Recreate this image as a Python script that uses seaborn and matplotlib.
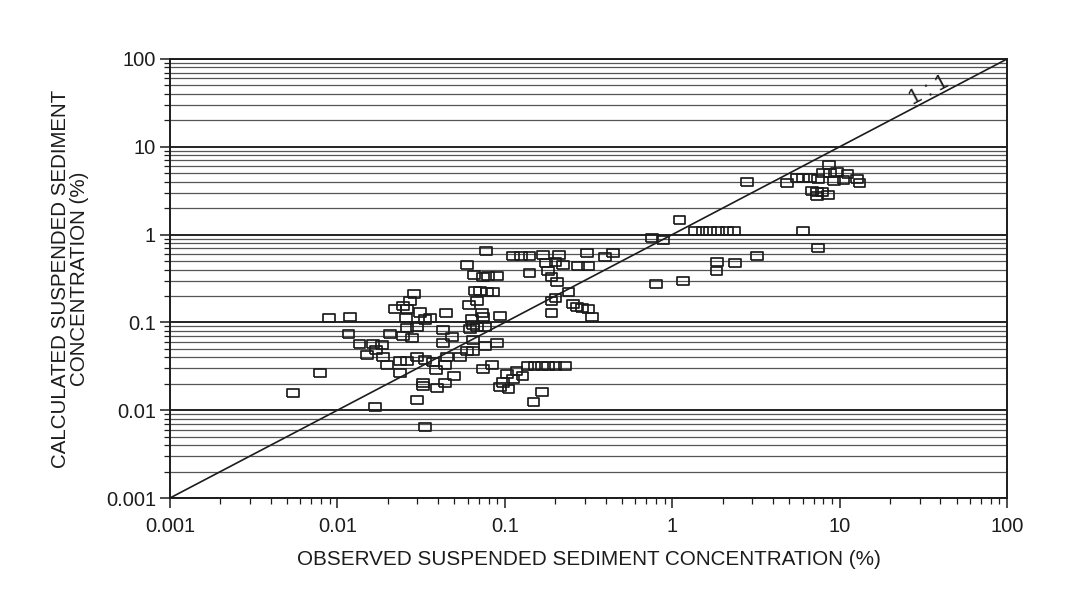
import numpy as np
import pandas as pd
import matplotlib
matplotlib.use("Agg")
import matplotlib.pyplot as plt
import seaborn as sns
from matplotlib.ticker import LogLocator, NullFormatter

# Observed vs calculated suspended sediment concentration (%), in three groups
low_observed = [0.0287, 0.0272, 0.0247, 0.0221, 0.0260, 0.0311, 0.00891, 0.0119, 0.0257, 0.0334,
                0.0357, 0.0299, 0.0260, 0.0206, 0.0117, 0.0247, 0.0279, 0.0136, 0.0163, 0.0185,
                0.0170, 0.0150, 0.0187, 0.0198, 0.0237, 0.0260, 0.0299, 0.0334, 0.0372, 0.0388,
                0.0237, 0.00787, 0.0324, 0.0324, 0.0394, 0.00543, 0.0299, 0.0168, 0.0334]
low_calculated = [0.211, 0.175, 0.154, 0.142, 0.142, 0.131, 0.112, 0.115, 0.112, 0.107,
                  0.112, 0.0886, 0.0863, 0.0738, 0.0738, 0.0700, 0.0664, 0.0568, 0.0568, 0.0553,
                  0.0485, 0.0425, 0.0404, 0.0327, 0.0363, 0.0363, 0.0404, 0.0373, 0.0354, 0.0287,
                  0.0265, 0.0265, 0.0204, 0.0189, 0.0179, 0.0157, 0.0131, 0.0109, 0.00644]

mid_observed = [0.0772, 0.0594, 0.112, 0.125, 0.140, 0.169, 0.211, 0.176, 0.200, 0.223,
                0.310, 0.443, 0.397, 0.274, 0.314, 0.0655, 0.0741, 0.0794, 0.0898, 0.140,
                0.181, 0.191, 0.205, 0.0664, 0.0711, 0.0783, 0.0851, 0.0682, 0.0611, 0.239,
                0.200, 0.191, 0.255, 0.270, 0.289, 0.314, 0.332, 0.191, 0.0446, 0.0731,
                0.0741, 0.0936, 0.0637, 0.0646, 0.0682, 0.0762, 0.0620, 0.0427, 0.0484, 0.0646,
                0.0762, 0.0898, 0.0427, 0.0594, 0.0646, 0.0540, 0.0452, 0.0440, 0.0741, 0.0839,
                0.136, 0.151, 0.167, 0.181, 0.200, 0.229, 0.103, 0.118, 0.127, 0.112,
                0.0975, 0.0936, 0.105, 0.0497, 0.0440, 0.167, 0.149]
mid_calculated = [0.650, 0.450, 0.570, 0.570, 0.570, 0.586, 0.586, 0.475, 0.487, 0.450,
                  0.617, 0.617, 0.556, 0.439, 0.439, 0.347, 0.329, 0.338, 0.338, 0.365,
                  0.385, 0.329, 0.288, 0.228, 0.228, 0.222, 0.222, 0.175, 0.158, 0.222,
                  0.190, 0.175, 0.162, 0.150, 0.146, 0.142, 0.115, 0.128, 0.128, 0.128,
                  0.115, 0.118, 0.109, 0.0934, 0.0887, 0.0887, 0.0841, 0.0819, 0.0682, 0.0630,
                  0.0539, 0.0583, 0.0583, 0.0472, 0.0472, 0.0404, 0.0404, 0.0327, 0.0294, 0.0327,
                  0.0319, 0.0319, 0.0319, 0.0319, 0.0319, 0.0319, 0.0258, 0.0280, 0.0245, 0.0227,
                  0.0209, 0.0184, 0.0174, 0.0245, 0.0204, 0.0161, 0.0124]

high_observed = [8.64, 7.96, 8.77, 9.64, 11.1, 2.80, 4.85, 5.57, 6.04, 6.65,
                 7.43, 9.26, 10.5, 12.7, 13.2, 6.84, 7.33, 7.85, 8.53, 7.33,
                 1.10, 0.757, 0.881, 1.37, 1.51, 1.68, 1.88, 2.12, 2.34, 6.04,
                 7.43, 1.85, 1.83, 2.37, 3.21, 0.800, 1.16]
high_calculated = [6.21, 5.03, 5.03, 5.16, 4.90, 3.97, 3.87, 4.41, 4.41, 4.41,
                   4.30, 4.08, 4.19, 4.30, 3.87, 3.14, 3.06, 3.06, 2.83, 2.75,
                   1.47, 0.915, 0.868, 1.10, 1.10, 1.10, 1.10, 1.10, 1.10, 1.10,
                   0.703, 0.487, 0.385, 0.475, 0.570, 0.274, 0.296]

one_to_one = [0.001, 100.0]
tick_values = [0.001, 0.01, 0.1, 1, 10, 100]
tick_labels = ["0.001", "0.01", "0.1", "1", "10", "100"]

df = pd.DataFrame({
    "observed": low_observed + mid_observed + high_observed,
    "calculated": low_calculated + mid_calculated + high_calculated,
})

sns.set_theme(style="white")
plt.rcParams["font.family"] = ["Liberation Sans", "DejaVu Sans"]

ink = "#1c1c1c"
fig = plt.figure(figsize=(10.71, 5.97), dpi=100)
ax = fig.add_axes([0.1587, 0.1658, 0.7816, 0.7354])
ax.set_xscale("log")
ax.set_yscale("log")

# open rectangular markers, a little wider than tall
rect = [(-1, -0.78), (1, -0.78), (1, 0.78), (-1, 0.78), (-1, -0.78)]
sns.scatterplot(data=df, x="observed", y="calculated", marker=rect, s=66,
                facecolor="none", edgecolor=ink, linewidth=1.25, ax=ax, legend=False,
                zorder=3)
ax.collections[0].set_facecolor("none")

sns.lineplot(x=one_to_one, y=one_to_one, color=ink, linewidth=1.2, ax=ax, zorder=2)

ax.set_xlim(0.001, 100)
ax.set_ylim(0.001, 100)

ax.set_xticks(tick_values)
ax.set_xticklabels(tick_labels)
ax.set_yticks(tick_values)
ax.set_yticklabels(tick_labels)
for axis in (ax.xaxis, ax.yaxis):
    axis.set_minor_locator(LogLocator(base=10, subs=np.arange(2, 10)))
    axis.set_minor_formatter(NullFormatter())

ax.tick_params(axis="both", which="major", direction="out", length=7, width=1.1,
               color=ink, labelsize=14.5, labelcolor=ink, bottom=True, left=True)
ax.tick_params(axis="both", which="minor", direction="out", length=4, width=0.9,
               color=ink, bottom=True, left=True)
ax.tick_params(axis="x", which="major", pad=7)
ax.tick_params(axis="y", which="major", pad=3)

ax.set_axisbelow(True)
ax.yaxis.grid(True, which="major", color="#111111", linewidth=1.3)
ax.yaxis.grid(True, which="minor", color="#555555", linewidth=0.9)
ax.xaxis.grid(False)

for side in ("left", "right", "top", "bottom"):
    ax.spines[side].set_visible(True)
    ax.spines[side].set_color(ink)
    ax.spines[side].set_linewidth(1.4)

ax.set_xlabel("OBSERVED SUSPENDED SEDIMENT CONCENTRATION (%)", fontsize=14.9,
              color=ink, labelpad=10)
ax.set_ylabel("CALCULATED SUSPENDED SEDIMENT\nCONCENTRATION (%)", fontsize=14.8,
              color=ink, labelpad=12, linespacing=1.05)

ax.text(34.2, 44.3, "1 : 1", rotation=27.7, rotation_mode="anchor",
        ha="center", va="center", fontsize=15.5, color=ink)

fig.savefig("out.png", dpi=100, facecolor="white")
